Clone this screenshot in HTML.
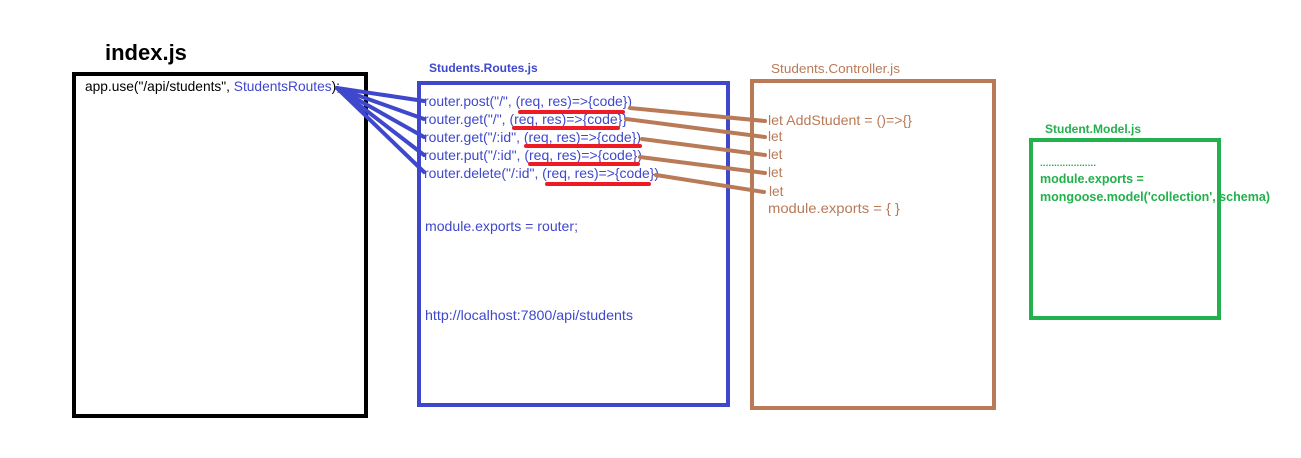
<!DOCTYPE html>
<html><head><meta charset="utf-8"><style>
html,body{margin:0;padding:0;background:#fff;}
svg{display:block}
text{font-family:"Liberation Sans",sans-serif;font-size:13.7px}
</style></head><body>
<svg width="1301" height="458" viewBox="0 0 1301 458" xmlns="http://www.w3.org/2000/svg">
<rect x="74" y="74" width="292" height="342" fill="none" stroke="#000" stroke-width="4"/>
<text x="105" y="60" style="font-size:22px;font-weight:bold">index.js</text>
<text x="85" y="91" fill="#000" textLength="255" lengthAdjust="spacingAndGlyphs">app.use("/api/students", <tspan fill="#3f48cc">StudentsRoutes</tspan>);</text>

<rect x="419" y="83" width="309" height="322" fill="none" stroke="#3f48cc" stroke-width="4"/>
<text x="429" y="72" fill="#3f48cc" style="font-weight:bold;font-size:12px">Students.Routes.js</text>
<g fill="#3f48cc">
<text x="424" y="106" textLength="208" lengthAdjust="spacingAndGlyphs">router.post("/", (req, res)=&gt;{code})</text>
<text x="424" y="124" textLength="203" lengthAdjust="spacingAndGlyphs">router.get("/", (req, res)=&gt;{code}}</text>
<text x="424" y="142" textLength="217" lengthAdjust="spacingAndGlyphs">router.get("/:id", (req, res)=&gt;{code})</text>
<text x="424" y="160" textLength="218" lengthAdjust="spacingAndGlyphs">router.put("/:id", (req, res)=&gt;{code})</text>
<text x="424" y="178" textLength="235" lengthAdjust="spacingAndGlyphs">router.delete("/:id", (req, res)=&gt;{code})</text>
<text x="425" y="231" textLength="153" lengthAdjust="spacingAndGlyphs">module.exports = router;</text>
<text x="425" y="320" textLength="208" lengthAdjust="spacingAndGlyphs">http://localhost:7800/api/students</text>
</g>
<g stroke="#3f48cc" stroke-width="4" stroke-linecap="round">
<line x1="337" y1="88" x2="424" y2="101"/>
<line x1="337" y1="88" x2="424" y2="119"/>
<line x1="337" y1="88" x2="424" y2="137"/>
<line x1="337" y1="88" x2="424" y2="155"/>
<line x1="337" y1="88" x2="424" y2="172"/>
</g>
<g stroke="#ed1c24" stroke-width="4" stroke-linecap="round">
<line x1="520" y1="112" x2="623" y2="112"/>
<line x1="514" y1="128" x2="618" y2="128"/>
<line x1="526" y1="146" x2="640" y2="146"/>
<line x1="530" y1="164" x2="638" y2="164"/>
<line x1="547" y1="184" x2="649" y2="184"/>
</g>

<rect x="752" y="81" width="242" height="327" fill="none" stroke="#b97a57" stroke-width="4"/>
<text x="771" y="73" fill="#b97a57" textLength="129" lengthAdjust="spacingAndGlyphs" style="font-size:13px">Students.Controller.js</text>
<g fill="#b97a57">
<text x="768" y="125" textLength="144" lengthAdjust="spacingAndGlyphs">let AddStudent = ()=&gt;{}</text>
<text x="768" y="141">let</text>
<text x="768" y="159">let</text>
<text x="768" y="177">let</text>
<text x="769" y="196">let</text>
<text x="768" y="213" textLength="132" lengthAdjust="spacingAndGlyphs">module.exports = {   }</text>
</g>
<g stroke="#b97a57" stroke-width="4" stroke-linecap="round">
<line x1="630" y1="108" x2="765" y2="121"/>
<line x1="626" y1="119" x2="765" y2="137"/>
<line x1="642" y1="139" x2="765" y2="155"/>
<line x1="640" y1="157" x2="765" y2="173"/>
<line x1="656" y1="175" x2="764" y2="192"/>
</g>

<rect x="1031" y="140" width="188" height="178" fill="none" stroke="#22b14c" stroke-width="4"/>
<text x="1045" y="133" fill="#22b14c" style="font-weight:bold;font-size:12px">Student.Model.js</text>
<g fill="#22b14c" style="font-weight:bold">
<text x="1040" y="166" style="font-size:9px" textLength="56" lengthAdjust="spacingAndGlyphs">....................</text>
<text x="1040" y="183" style="font-size:12.5px">module.exports =</text>
<text x="1040" y="201" style="font-size:12.5px" textLength="230" lengthAdjust="spacingAndGlyphs">mongoose.model('collection', schema)</text>
</g>
</svg>
</body></html>
